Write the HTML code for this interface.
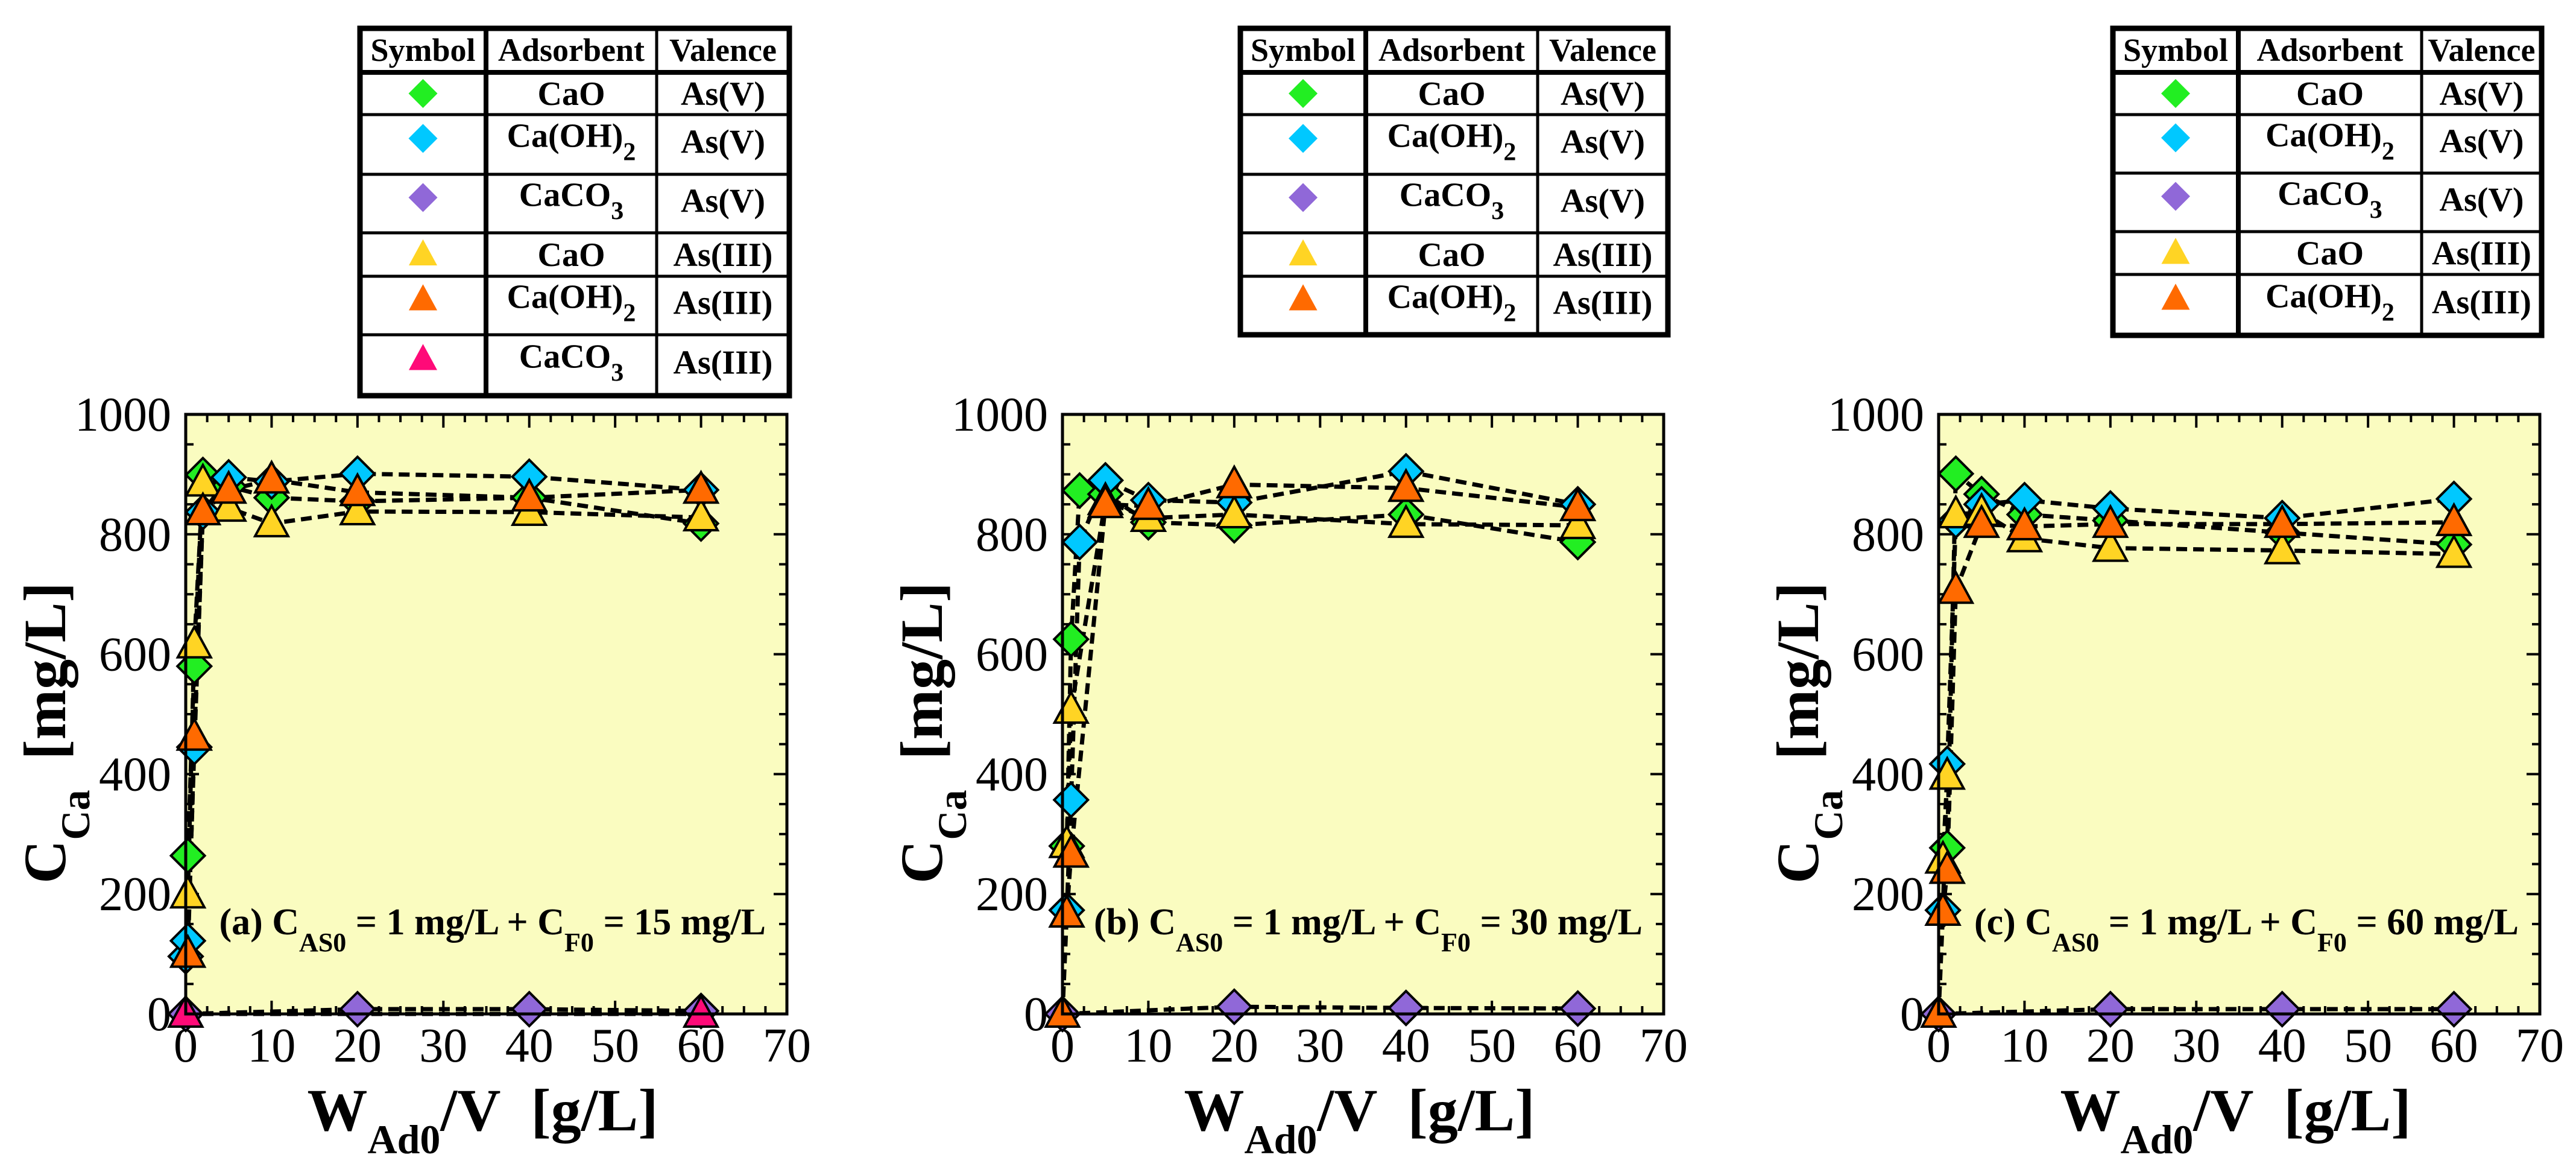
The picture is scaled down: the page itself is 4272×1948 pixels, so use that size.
<!DOCTYPE html>
<html><head><meta charset="utf-8"><style>
html,body{margin:0;padding:0;background:#fff;}
svg{display:block;font-family:"Liberation Serif",serif;}
</style></head><body>
<svg id="chart" width="4272" height="1948" viewBox="0 0 4272 1948" xmlns="http://www.w3.org/2000/svg"></svg>
<script>
// ---- data: panel (a) ----
const a_cao5_x = [0.25, 1, 2, 5, 10, 20, 40, 60];
const a_cao5_y = [264, 580, 899, 880, 861, 855, 861, 818];
const a_oh5_x = [0, 0.25, 1, 2, 5, 10, 20, 40, 60];
const a_oh5_y = [96, 122, 445, 837, 895, 888, 901, 896, 874];
const a_co5_x = [0, 20, 40, 60];
const a_co5_y = [0, 8, 8, 5];
const a_cao3_x = [0.25, 1, 2, 5, 10, 20, 40, 60];
const a_cao3_y = [199, 616, 886, 844, 818, 838, 837, 828];
const a_oh3_x = [0.25, 1, 2, 5, 10, 20, 40, 60];
const a_oh3_y = [100, 462, 838, 874, 891, 870, 861, 874];
const a_co3_x = [0, 60];
const a_co3_y = [0, 0];
// ---- data: panel (b) ----
const b_cao5_x = [0.5, 1, 2, 5, 10, 20, 40, 60];
const b_cao5_y = [280, 625, 873, 867, 820, 815, 833, 787];
const b_oh5_x = [0.5, 1, 2, 5, 10, 20, 40, 60];
const b_oh5_y = [173, 357, 787, 890, 857, 853, 905, 850];
const b_co5_x = [0, 20, 40, 60];
const b_co5_y = [0, 12, 10, 9];
const b_cao3_x = [0.5, 1, 5, 10, 20, 40, 60];
const b_cao3_y = [283, 507, 855, 827, 833, 817, 815];
const b_oh3_x = [0, 0.5, 1, 5, 10, 20, 40, 60];
const b_oh3_y = [0, 167, 267, 850, 847, 883, 877, 845];
// ---- data: panel (c) ----
const c_cao5_x = [1, 2, 5, 10, 20, 40, 60];
const c_cao5_y = [277, 901, 867, 833, 823, 803, 783];
const c_oh5_x = [0.5, 1, 2, 5, 10, 20, 40, 60];
const c_oh5_y = [173, 417, 823, 850, 857, 843, 827, 859];
const c_co5_x = [0, 20, 40, 60];
const c_co5_y = [0, 8, 8, 8];
const c_cao3_x = [0.5, 1, 2, 5, 10, 20, 40, 60];
const c_cao3_y = [257, 397, 833, 837, 793, 777, 773, 767];
const c_oh3_x = [0, 0.5, 1, 2, 5, 10, 20, 40, 60];
const c_oh3_y = [0, 170, 240, 707, 817, 813, 817, 817, 820];
// ---- ticks & labels ----
const xTicks = [0, 10, 20, 30, 40, 50, 60, 70];
const yTicks = [0, 200, 400, 600, 800, 1000];
const panelTags = ["(a)", "(b)", "(c)"];
const panelCF = ["15", "30", "60"];

const NS = "http://www.w3.org/2000/svg";
const svg = document.getElementById("chart");
function mk(tag, attrs, parent) {
  const e = document.createElementNS(NS, tag);
  for (const k in attrs) e.setAttribute(k, attrs[k]);
  (parent || svg).appendChild(e);
  return e;
}
const COLORS = {cao5:"#22ee22", oh5:"#00c8ff", co5:"#9068d8", cao3:"#ffd424", oh3:"#ff6a00", co3:"#ff0a78"};
const SHAPES = {cao5:"d", oh5:"d", co5:"d", cao3:"t", oh3:"t", co3:"t"};

function marker(shape, cx, cy, color, s, stroke, parent) {
  let pts;
  if (shape === "d") pts = [[cx, cy - s], [cx + s, cy], [cx, cy + s], [cx - s, cy]];
  else pts = [[cx, cy - s * 1.05], [cx + s * 0.98, cy + s * 0.75], [cx - s * 0.98, cy + s * 0.75]];
  return mk("polygon", {points: pts.map(p => p.join(",")).join(" "), fill: color, stroke: stroke ? "#000" : "none", "stroke-width": stroke ? 4 : 0, "stroke-linejoin": "miter"}, parent);
}

const panels = [
  {left: 308, series: {cao5:[a_cao5_x,a_cao5_y], oh5:[a_oh5_x,a_oh5_y], co5:[a_co5_x,a_co5_y], cao3:[a_cao3_x,a_cao3_y], oh3:[a_oh3_x,a_oh3_y], co3:[a_co3_x,a_co3_y]}},
  {left: 1762, series: {cao5:[b_cao5_x,b_cao5_y], oh5:[b_oh5_x,b_oh5_y], co5:[b_co5_x,b_co5_y], cao3:[b_cao3_x,b_cao3_y], oh3:[b_oh3_x,b_oh3_y]}},
  {left: 3215, series: {cao5:[c_cao5_x,c_cao5_y], oh5:[c_oh5_x,c_oh5_y], co5:[c_co5_x,c_co5_y], cao3:[c_cao3_x,c_cao3_y], oh3:[c_oh3_x,c_oh3_y]}}
];
const TOP = 687, BOT = 1681, W = 997;

panels.forEach((p, pi) => {
  const g = mk("g", {});
  
  
  const X = u => p.left + u * W / 70;
  const Y = v => BOT - v * (BOT - TOP) / 1000;
  const bg = mk("rect", {x: p.left, y: TOP, width: W, height: BOT - TOP, fill: "#fafcc0"}, g);
  
  
  for (let u = 0; u <= 70.01; u += 2.5) {
    const major = Math.abs(u % 10) < 0.01;
    const L = major ? 22 : 13;
    mk("line", {x1: X(u), x2: X(u), y1: BOT, y2: BOT - L, stroke: "#000", "stroke-width": 4}, g);
    mk("line", {x1: X(u), x2: X(u), y1: TOP, y2: TOP + L, stroke: "#000", "stroke-width": 4}, g);
  }
  for (let v = 0; v <= 1000.1; v += 50) {
    const major = v % 200 === 0;
    const L = major ? 22 : 13;
    mk("line", {x1: p.left, x2: p.left + L, y1: Y(v), y2: Y(v), stroke: "#000", "stroke-width": 4}, g);
    mk("line", {x1: p.left + W, x2: p.left + W - L, y1: Y(v), y2: Y(v), stroke: "#000", "stroke-width": 4}, g);
  }
  xTicks.forEach(t => {
    const tx = mk("text", {x: X(t), y: 1760, "font-size": 80, "text-anchor": "middle"}, g);
    tx.textContent = t;
    
    
  });
  yTicks.forEach(t => {
    const ty = mk("text", {x: p.left - 24, y: Y(t) + 27, "font-size": 80, "text-anchor": "end"}, g);
    ty.textContent = t;
    
    
  });
  const order = ["co5", "co3", "cao5", "oh5", "cao3", "oh3"];
  order.forEach(k => {
    const s = p.series[k]; if (!s) return;
    const pts = s[0].map((u, i) => X(u) + "," + Y(s[1][i])).join(" ");
    const ln = mk("polyline", {points: pts, fill: "none", stroke: "#000", "stroke-width": 7, "stroke-dasharray": "18 10"}, g);
    
    
  });
  order.forEach(k => {
    const s = p.series[k]; if (!s) return;
    s[0].forEach((u, i) => {
      const m = marker(SHAPES[k], X(u), Y(s[1][i]), COLORS[k], 28, true, g);
      
      
    });
  });
  const fr = mk("rect", {x: p.left, y: TOP, width: W, height: BOT - TOP, fill: "none", stroke: "#000", "stroke-width": 5}, g);
  
  
  const an = mk("text", {x: p.left + 962, y: 1549, "font-size": 62, "font-weight": "bold", "text-anchor": "end"}, g);
  
  
  an.innerHTML = panelTags[pi] + ' C<tspan dy="28" font-size="44">AS0</tspan><tspan dy="-28"> = 1 mg/L + C</tspan><tspan dy="28" font-size="44">F0</tspan><tspan dy="-28"> = ' + panelCF[pi] + ' mg/L</tspan>';
  const xt = mk("text", {x: p.left + W / 2 - 6, y: 1874, "font-size": 100, "font-weight": "bold", "text-anchor": "middle"}, g);
  
  
  xt.innerHTML = 'W<tspan dy="38" font-size="68">Ad0</tspan><tspan dy="-38">/V\u00a0\u00a0[g/L]</tspan>';
  const yt = mk("text", {x: 0, y: 0, "font-size": 100, "font-weight": "bold", "text-anchor": "middle", transform: "translate(" + (p.left - 200) + ",1215) rotate(-90)"}, g);
  
  
  yt.innerHTML = 'C<tspan dy="40" font-size="68">Ca</tspan><tspan dy="-40">\u00a0\u00a0[mg/L]</tspan>';
});

const legRowsA = [["cao5","CaO","","As(V)"],["oh5","Ca(OH)","2","As(V)"],["co5","CaCO","3","As(V)"],["cao3","CaO","","As(III)"],["oh3","Ca(OH)","2","As(III)"],["co3","CaCO","3","As(III)"]];
const tables = [
  {cols:[597,806,1089,1309], rows:[47,120,190,289,386,458,555,656], n:6},
  {cols:[2057,2265,2550,2766], rows:[47,120,190,289,386,458,555], n:5},
  {cols:[3504,3712,4016,4215], rows:[47,120,190,287,384,455,556], n:5}
];
tables.forEach((t, ti) => {
  const g = mk("g", {});
  
  
  const c = t.cols, r = t.rows;
  mk("rect", {x: c[0], y: r[0], width: c[3] - c[0], height: r[r.length - 1] - r[0], fill: "#fff", stroke: "#000", "stroke-width": 9}, g);
  for (let i = 1; i < r.length - 1; i++)
    mk("line", {x1: c[0], x2: c[3], y1: r[i], y2: r[i], stroke: "#000", "stroke-width": i === 1 ? 8 : 5}, g);
  mk("line", {x1: c[1], x2: c[1], y1: r[0], y2: r[r.length - 1], stroke: "#000", "stroke-width": 8}, g);
  mk("line", {x1: c[2], x2: c[2], y1: r[0], y2: r[r.length - 1], stroke: "#000", "stroke-width": 5}, g);
  ["Symbol", "Adsorbent", "Valence"].forEach((h, j) => {
    const tx = mk("text", {x: (c[j] + c[j + 1]) / 2, y: r[0] + 54, "font-size": 54, "font-weight": "bold", "text-anchor": "middle"}, g);
    tx.textContent = h;
    
    
  });
  for (let i = 0; i < t.n; i++) {
    const row = legRowsA[i];
    const y0 = r[i + 1], y1 = r[i + 2], cy = (y0 + y1) / 2;
    const sub = row[2] !== "";
    const m = marker(SHAPES[row[0]], (c[0] + c[1]) / 2, cy - (sub ? 10 : 0), COLORS[row[0]], 24, false, g);
    
    
    const ad = mk("text", {x: (c[1] + c[2]) / 2, y: cy + (sub ? 4 : 19), "font-size": 56, "font-weight": "bold", "text-anchor": "middle"}, g);
    
    
    ad.innerHTML = row[1] + (sub ? '<tspan dy="22" font-size="42">' + row[2] + '</tspan>' : '');
    const va = mk("text", {x: (c[2] + c[3]) / 2, y: cy + (sub ? 14 : 19), "font-size": 56, "font-weight": "bold", "text-anchor": "middle"}, g);
    va.textContent = row[3];
    
    
  }
});
</script>
</body></html>
